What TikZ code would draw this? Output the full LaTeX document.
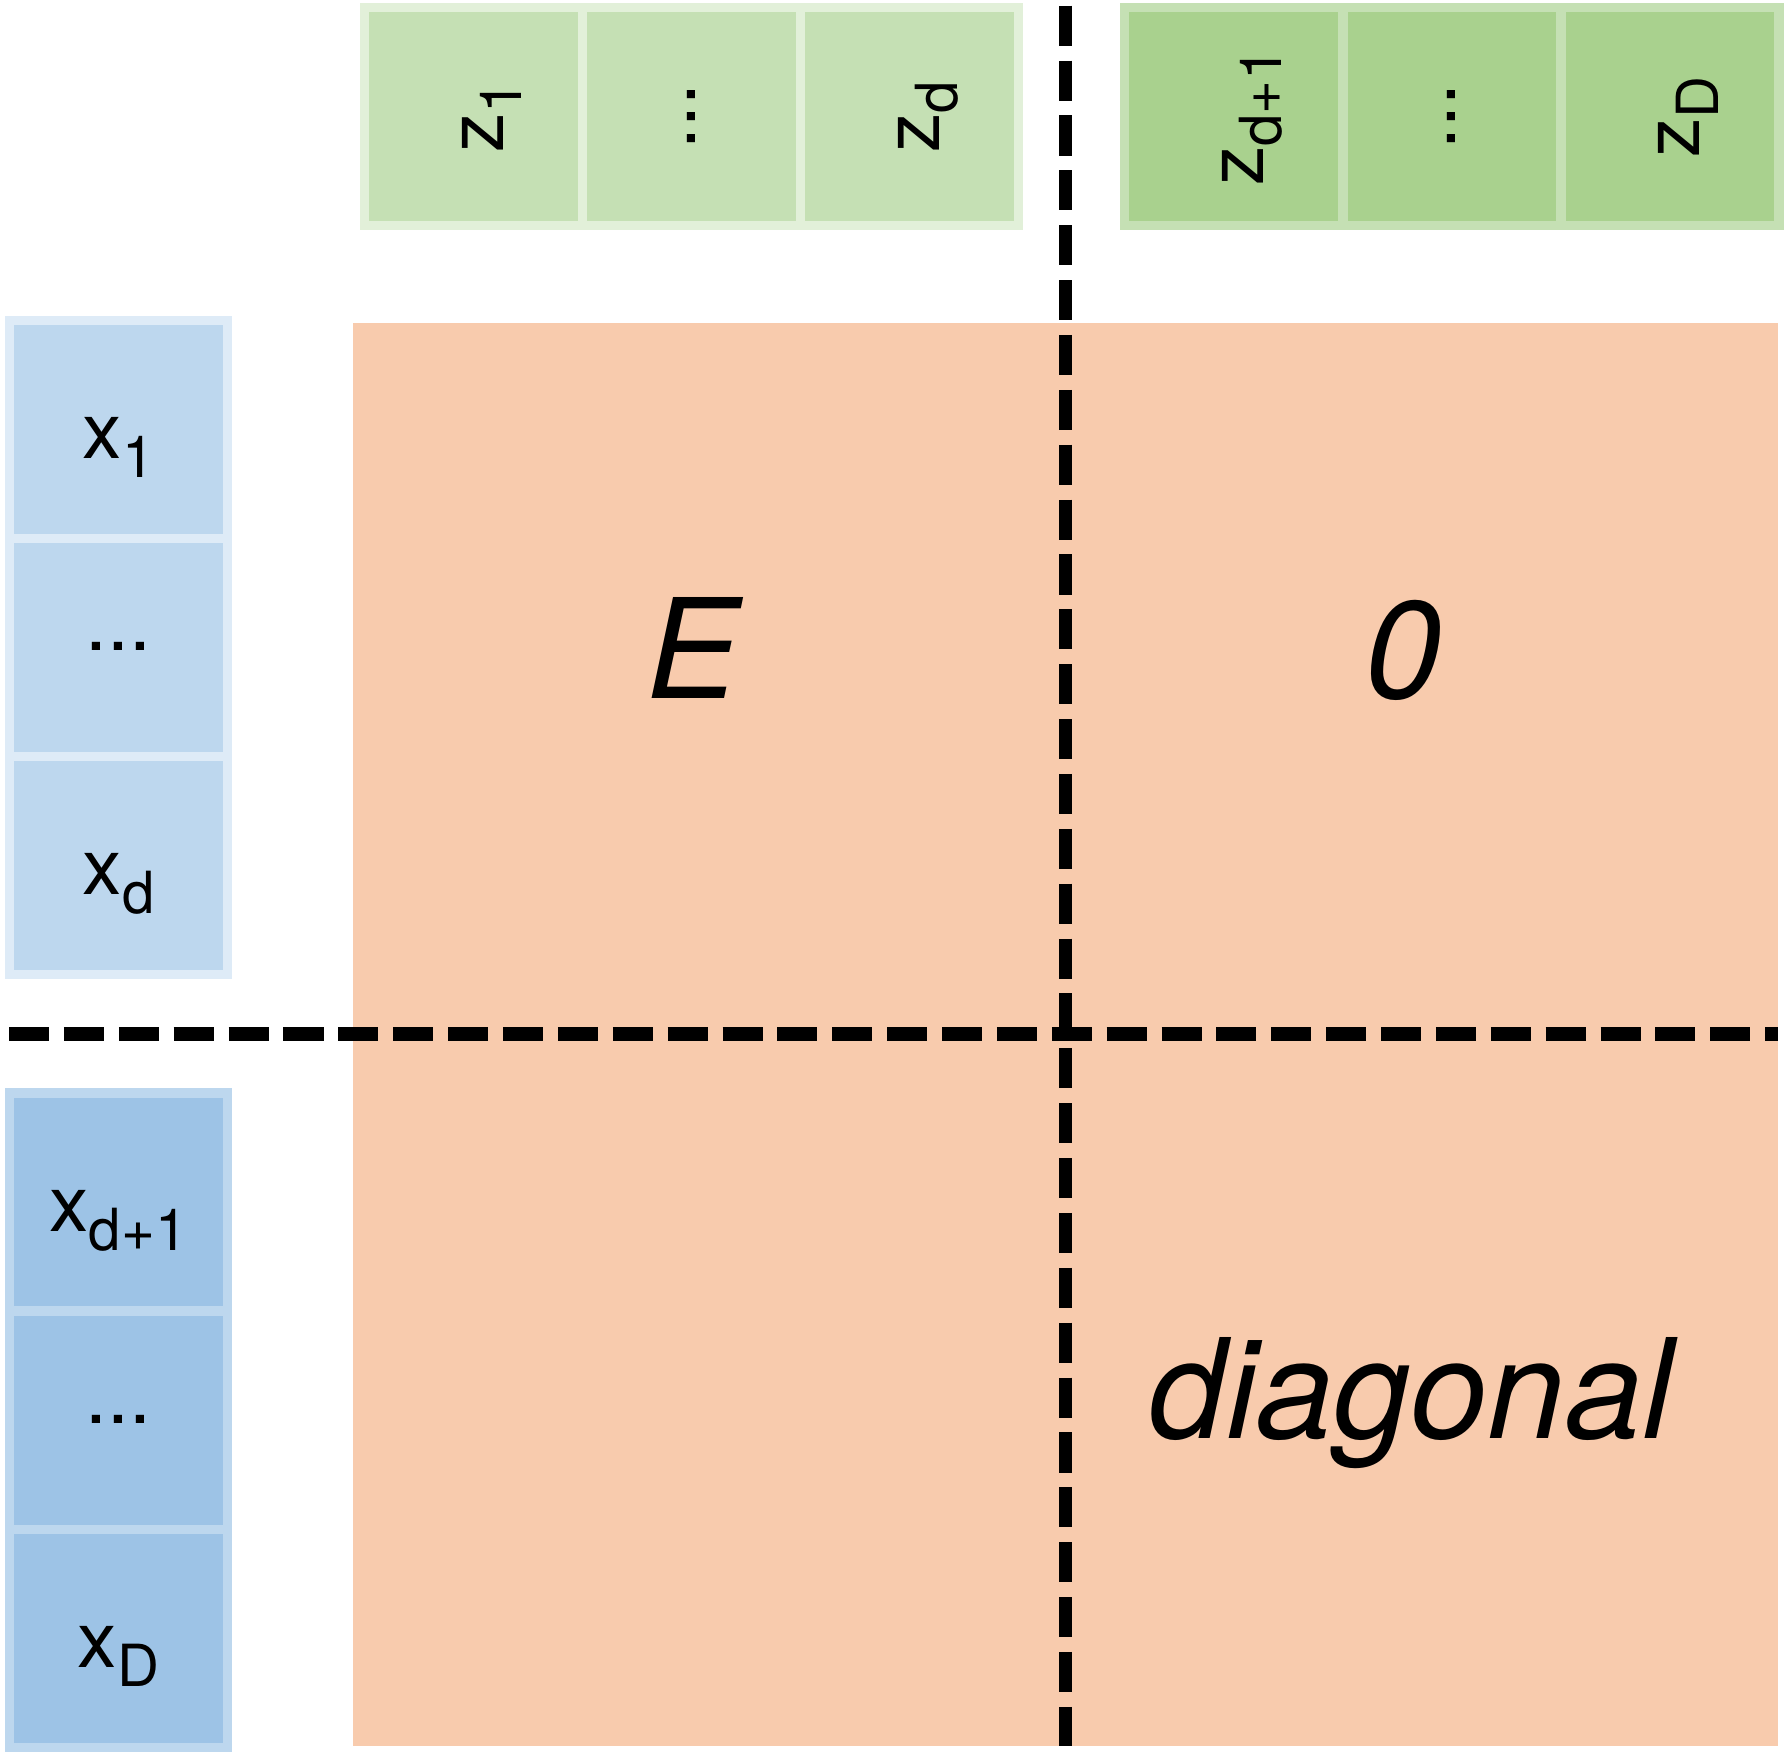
\documentclass[tikz,border=0pt]{standalone}
\usepackage{fontspec}
\setmainfont{TeX Gyre Heros}
\usetikzlibrary{positioning}
\definecolor{grnA}{HTML}{C5E0B4}
\definecolor{grnAline}{HTML}{E2F0D9}
\definecolor{grnB}{HTML}{A9D18E}
\definecolor{grnBline}{HTML}{C5E0B4}
\definecolor{bluA}{HTML}{BDD7EE}
\definecolor{bluAline}{HTML}{DEEBF7}
\definecolor{bluB}{HTML}{9DC3E6}
\definecolor{bluBline}{HTML}{BDD7EE}
\definecolor{peach}{HTML}{F8CBAD}
\newcommand{\lowtxt}[1]{\raisebox{-4.6pt}{\fontsize{14.5pt}{16pt}\selectfont #1}}
\begin{document}
\begin{tikzpicture}[
	node distance=0pt,
	cell/.style={draw,line width=0.08cm,minimum width=1.913cm,minimum height=1.913cm,inner sep=0pt,outer sep=0pt},
	xa/.style={cell,fill=bluA,draw=bluAline},
	xb/.style={cell,fill=bluB,draw=bluBline},
	za/.style={cell,fill=grnA,draw=grnAline},
	zb/.style={cell,fill=grnB,draw=grnBline},
	lbl/.style={font=\fontsize{19.6pt}{23pt}\selectfont,anchor=base,inner sep=0pt},
	big/.style={font=\fontsize{34.6pt}{40pt}\selectfont\itshape,anchor=base,inner sep=0pt},
	split/.style={line width=3.4pt,dash pattern=on 10pt off 3.7pt},
	]
\useasboundingbox (0,0) rectangle (15.68,-15.44);
% matrix block
\node [fill=peach,minimum width=12.5cm,minimum height=12.49cm,inner sep=0pt] (mat) at (9.35,-9.075) {};
% inputs x
\node [xa] (x1) at (1.04,-3.767) {};
\node [xa,below=of x1] (x2) {};
\node [xa,below=of x2] (x3) {};
\node [xb] (x4) at (1.04,-10.547) {};
\node [xb,below=of x4] (x5) {};
\node [xb,below=of x5] (x6) {};
% outputs z
\node [za] (z1) at (4.157,-1.025) {};
\node [za,right=of z1] (z2) {};
\node [za,right=of z2] (z3) {};
\node [zb] (z4) at (10.827,-1.025) {};
\node [zb,right=of z4] (z5) {};
\node [zb,right=of z5] (z6) {};
% labels
\node [lbl,yshift=-0.26cm] (lx1) at (x1.center) {x\lowtxt{1}};
\node [lbl,yshift=-0.03cm] (lx2) at (x2.center) {...};
\node [lbl,yshift=-0.26cm] (lx3) at (x3.center) {x\lowtxt{d}};
\node [lbl,yshift=-0.26cm] (lx4) at (x4.center) {x\lowtxt{d+1}};
\node [lbl,yshift=-0.03cm] (lx5) at (x5.center) {...};
\node [lbl,yshift=-0.26cm] (lx6) at (x6.center) {x\lowtxt{D}};
\node [lbl,xshift=0.26cm,rotate=90] (lz1) at (z1.center) {z\lowtxt{1}};
\node [lbl,xshift=0.03cm,rotate=90] (lz2) at (z2.center) {...};
\node [lbl,xshift=0.26cm,rotate=90] (lz3) at (z3.center) {z\lowtxt{d}};
\node [lbl,xshift=0.26cm,rotate=90] (lz4) at (z4.center) {z\lowtxt{d+1}};
\node [lbl,xshift=0.03cm,rotate=90] (lz5) at (z5.center) {...};
\node [lbl,xshift=0.26cm,rotate=90] (lz6) at (z6.center) {z\lowtxt{D}};
% dashed splits
\coordinate (vtop) at (9.35,-0.05);
\coordinate (vbot) at (9.35,-15.32);
\coordinate (hleft) at (0.08,-9.07);
\coordinate (hright) at (15.60,-9.07);
\draw [split] (vtop) -- (vbot);
\draw [split] (hleft) -- (hright);
% blocks
\node [big] (blkE) at (6.08,-6.125) {E};
\node [big] (blk0) at (12.31,-6.125) {0};
\node [big] (blkD) at (12.38,-12.62) {diagonal};
\end{tikzpicture}
\end{document}
